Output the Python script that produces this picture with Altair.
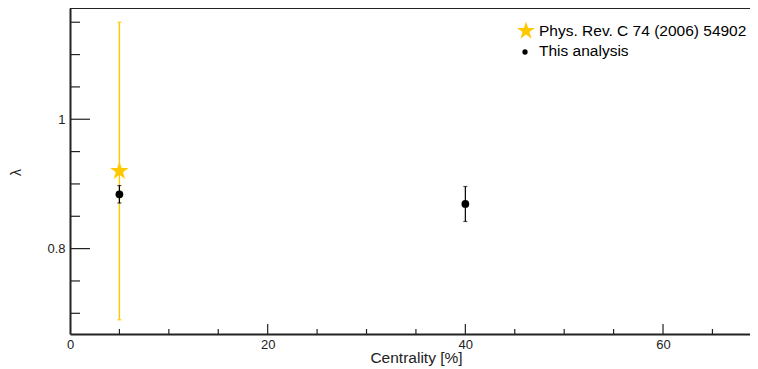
import altair as alt
import pandas as pd

# ---- data ----
ref_centrality = [5]
ref_lambda = [0.92]
ref_err = [0.23]

ana_centrality = [5, 40]
ana_lambda = [0.884, 0.869]
ana_err = [0.0135, 0.027]

x_major = [0, 20, 40, 60]
x_minor = [5, 10, 15, 25, 30, 35, 45, 50, 55, 65]
y_major = [0.8, 1.0]
y_minor = [0.7, 0.75, 0.85, 0.9, 0.95, 1.05, 1.1, 1.15]

legend_labels = ["Phys. Rev. C 74 (2006) 54902", "This analysis"]

STAR = ("M0,-1L0.2245,-0.309L0.951,-0.309L0.3633,0.118L0.5878,0.809L0,0.382"
        "L-0.5878,0.809L-0.3633,0.118L-0.951,-0.309L-0.2245,-0.309Z")
GOLD = "#FFC800"
FONT = "Liberation Sans"
W, H = 680, 326

ref = pd.DataFrame({"c": ref_centrality, "l": ref_lambda, "e": ref_err})
ref["lo"] = ref["l"] - ref["e"]
ref["hi"] = ref["l"] + ref["e"]
ana = pd.DataFrame({"c": ana_centrality, "l": ana_lambda, "e": ana_err})
ana["lo"] = ana["l"] - ana["e"]
ana["hi"] = ana["l"] + ana["e"]

xs = alt.Scale(domain=[0, 68.8], nice=False, zero=False)
ys = alt.Scale(domain=[0.668, 1.172], nice=False, zero=False)

xaxis = alt.Axis(values=x_major, ticks=False, grid=False, domainColor="#222", domainWidth=2,
                 labelFont=FONT, labelFontSize=13, labelColor="#222", labelPadding=4, labelFlush=False,
                 title="Centrality [%]", titleFont=FONT, titleFontSize=15.5, titleFontWeight="normal",
                 titleColor="#222", titleBaseline="middle", titleY=23, titleX=346)
yaxis = alt.Axis(values=y_major, format="~g", ticks=False, grid=False, domainColor="#222", domainWidth=2,
                 labelFont=FONT, labelFontSize=13, labelColor="#222", labelPadding=5, labelFlush=False,
                 title="λ", titleFont=FONT, titleFontSize=14, titleFontWeight="normal",
                 titleColor="#222", titleBaseline="middle", titleX=-54, titleY=164, titleAngle=-90)

base_ref = alt.Chart(ref)
base_ana = alt.Chart(ana)

ref_bar = base_ref.mark_rule(color=GOLD, strokeWidth=1.4).encode(
    x=alt.X("c:Q", scale=xs, axis=xaxis), y=alt.Y("lo:Q", scale=ys, axis=yaxis), y2="hi:Q")
ref_cap_lo = base_ref.mark_tick(color=GOLD, orient="horizontal", size=4, thickness=1.5).encode(
    x="c:Q", y="lo:Q")
ref_cap_hi = base_ref.mark_tick(color=GOLD, orient="horizontal", size=4, thickness=1.5).encode(
    x="c:Q", y="hi:Q")
ref_pt = base_ref.mark_point(shape=STAR, filled=True, color=GOLD, size=380, opacity=1).encode(
    x="c:Q", y="l:Q")

ana_bar = base_ana.mark_rule(color="black", strokeWidth=1.2).encode(x="c:Q", y="lo:Q", y2="hi:Q")
ana_cap_lo = base_ana.mark_tick(color="black", orient="horizontal", size=4, thickness=1.2).encode(
    x="c:Q", y="lo:Q")
ana_cap_hi = base_ana.mark_tick(color="black", orient="horizontal", size=4, thickness=1.2).encode(
    x="c:Q", y="hi:Q")
ana_pt = base_ana.mark_point(shape="circle", filled=True, color="black", size=60, opacity=1).encode(
    x="c:Q", y="l:Q")

# inward ticks
ymaj = alt.Chart(pd.DataFrame({"v": y_major})).mark_rule(color="#222", strokeWidth=1.2).encode(
    y="v:Q", x=alt.value(0), x2=alt.value(20))
ymin = alt.Chart(pd.DataFrame({"v": y_minor})).mark_rule(color="#222", strokeWidth=1.2).encode(
    y="v:Q", x=alt.value(0), x2=alt.value(10))
xmaj = alt.Chart(pd.DataFrame({"v": x_major[1:]})).mark_rule(color="#222", strokeWidth=1.2).encode(
    x="v:Q", y=alt.value(H), y2=alt.value(H - 10))
xmin = alt.Chart(pd.DataFrame({"v": x_minor})).mark_rule(color="#222", strokeWidth=1.2).encode(
    x="v:Q", y=alt.value(H), y2=alt.value(H - 5))

top_line = alt.Chart(pd.DataFrame({"a": [0]})).mark_rule(color="#222", strokeWidth=2).encode(
    x=alt.value(0), x2=alt.value(W), y=alt.value(0))

# legend
leg = pd.DataFrame({"label": legend_labels})
leg_star = alt.Chart(leg.iloc[[0]]).mark_point(shape=STAR, filled=True, color=GOLD, size=360, opacity=1).encode(
    x=alt.value(456), y=alt.value(23))
leg_dot = alt.Chart(leg.iloc[[1]]).mark_point(shape="circle", filled=True, color="black", size=28, opacity=1).encode(
    x=alt.value(455), y=alt.value(44))
leg_t1 = alt.Chart(leg.iloc[[0]]).mark_text(align="left", baseline="middle", font=FONT, fontSize=15.5,
                                            color="black").encode(
    x=alt.value(469), y=alt.value(23), text="label:N")
leg_t2 = alt.Chart(leg.iloc[[1]]).mark_text(align="left", baseline="middle", font=FONT, fontSize=15.5,
                                            color="black").encode(
    x=alt.value(469), y=alt.value(43), text="label:N")

chart = alt.layer(
    ref_bar, ref_cap_lo, ref_cap_hi, ref_pt,
    ana_bar, ana_cap_lo, ana_cap_hi, ana_pt,
    ymaj, ymin, xmaj, xmin, top_line,
    leg_star, leg_dot, leg_t1, leg_t2,
).properties(
    width=W, height=H,
    autosize=alt.AutoSizeParams(type="none"),
    padding={"left": 62, "top": 0, "right": 0, "bottom": 40},
).configure_view(stroke=None).configure(background="white")

chart.save("out.html", embed_options={"renderer": "svg", "actions": False})
